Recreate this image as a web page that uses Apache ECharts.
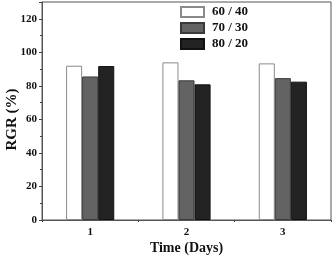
<!DOCTYPE html>
<html><head><meta charset="utf-8">
<script src="https://cdn.jsdelivr.net/npm/echarts@6/dist/echarts.min.js"></script>
<style>html,body{margin:0;padding:0;background:#fff}#c{width:333px;height:256px}</style>
</head><body><div id="c"></div>
<script>
var categories = ['1', '2', '3'];
var seriesNames = ['60 / 40', '70 / 30', '80 / 20'];
var s6040 = [92.0, 94.0, 93.4];
var s7030 = [85.6, 83.3, 84.6];
var s8020 = [91.8, 80.9, 82.5];
var yTicks = [0, 20, 40, 60, 80, 100, 120];

var font = '"Liberation Serif","Times New Roman",serif';
var fills = ['#ffffff', '#636363', '#232323'];
var borders = ['#8a8a8a', '#3a3a3a', '#111111'];
var vals = [s6040, s7030, s8020];

var chart = echarts.init(document.getElementById('c'), null, {renderer: 'canvas'});
chart.setOption({
  animation: false,
  backgroundColor: '#fff',
  grid: {left: 42, right: 2, top: 2, bottom: 36, show: true, borderColor: '#555', borderWidth: 1, containLabel: false, outerBoundsMode: 'none'},
  legend: {
    orient: 'vertical', left: 180, top: 5, padding: 0, itemWidth: 23, itemHeight: 10, itemGap: 2,
    icon: 'rect',
    textStyle: {fontFamily: font, fontWeight: 'bold', fontSize: 13, lineHeight: 14, color: '#111', padding: [0, 0, 0, 3]},
    data: seriesNames
  },
  xAxis: [{
    type: 'category', data: categories,
    name: 'Time (Days)', nameLocation: 'middle', nameGap: 21, nameMoveOverlap: false,
    nameTextStyle: {fontFamily: font, fontWeight: 'bold', fontSize: 14, color: '#111'},
    axisLine: {lineStyle: {color: '#555', width: 1}},
    axisTick: {alignWithLabel: true, length: 4, lineStyle: {color: '#444'}},
    axisLabel: {fontFamily: font, fontWeight: 'bold', fontSize: 11, color: '#111', margin: 7}
  }, {
    type: 'category', data: categories, position: 'bottom',
    axisLine: {show: false},
    axisTick: {show: true, length: 2, lineStyle: {color: '#444'}},
    axisLabel: {show: false}
  }],
  yAxis: {
    type: 'value', min: 0, max: 130, interval: 20,
    name: 'RGR (%)', nameLocation: 'middle', nameGap: 22, nameMoveOverlap: false,
    nameTextStyle: {fontFamily: font, fontWeight: 'bold', fontSize: 15, color: '#111', padding: [0, 17, 0, 0]},
    axisLine: {show: true, lineStyle: {color: '#555', width: 1}},
    axisTick: {show: true, length: 3, lineStyle: {color: '#444'}},
    minorTick: {show: true, splitNumber: 2, length: 2, lineStyle: {color: '#444'}},
    splitLine: {show: false},
    axisLabel: {fontFamily: font, fontWeight: 'bold', fontSize: 11, color: '#111', margin: 5, showMaxLabel: false,
      formatter: function (v) { return yTicks.indexOf(v) >= 0 ? String(v) : ''; }}
  },
  series: seriesNames.map(function (n, i) {
    return {
      name: n, type: 'bar', data: vals[i], barGap: '0%', barCategoryGap: '50%',
      itemStyle: {color: fills[i], borderColor: borders[i], borderWidth: 1}
    };
  })
});
</script></body></html>
